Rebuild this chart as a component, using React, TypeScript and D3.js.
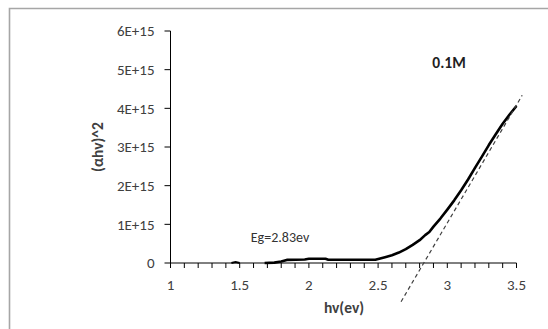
import React from "react";
import * as d3 from "d3";

const W = 548;
const H = 329;

// main curve: hv (eV) vs (αhv)^2 in units of 1E15
const hvMain = [1.68, 1.75, 1.8, 1.84, 1.97, 2.0, 2.12, 2.14, 2.48, 2.55, 2.6, 2.65, 2.7, 2.75, 2.8, 2.84, 2.87, 2.9, 2.95, 3.0, 3.05, 3.1, 3.15, 3.2, 3.25, 3.3, 3.35, 3.4, 3.45, 3.5];
const valMain = [0, 0.01, 0.04, 0.08, 0.09, 0.11, 0.11, 0.085, 0.085, 0.15, 0.2, 0.27, 0.36, 0.47, 0.59, 0.72, 0.8, 0.94, 1.15, 1.38, 1.62, 1.88, 2.16, 2.46, 2.75, 3.05, 3.33, 3.6, 3.84, 4.06];
// small blip near 1.47
const hvBlip = [1.44, 1.47, 1.5];
const valBlip = [0, 0.025, 0];
// tangent line (Eg = 2.83 eV)
const tangentHv = [2.666, 3.541];
const tangentSlope = 6.1; // 1E15 per eV
const Eg = 2.83;

const xTicks = [1, 1.5, 2, 2.5, 3, 3.5];
const xMinorTicks = d3.range(10, 36).map((d) => d / 10);
const yTicks = [0, 1, 2, 3, 4, 5, 6];
const yTickLabels = ["0", "1E+15", "2E+15", "3E+15", "4E+15", "5E+15", "6E+15"];

export default function App() {
  const x = d3.scaleLinear().domain([1, 3.5]).range([170.5, 516.5]);
  const y = d3.scaleLinear().domain([0, 6]).range([263, 31]);
  const line = d3
    .line<[number, number]>()
    .x((d) => x(d[0]))
    .y((d) => y(d[1]));
  const mainPts: [number, number][] = hvMain.map((h, i) => [h, valMain[i]]);
  const blipPts: [number, number][] = hvBlip.map((h, i) => [h, valBlip[i]]);
  const tanPts: [number, number][] = tangentHv.map((h) => [h, tangentSlope * (h - Eg)]);
  const font = "Carlito, 'Liberation Sans', Arial, sans-serif";
  return (
    <svg width={W} height={H} style={{ position: "absolute", left: 0, top: 0 }} fontFamily={font}>
      <rect x={0} y={0} width={W} height={H} fill="#fff" />
      <path d={`M9.5,${H} L9.5,8.5 L${W},8.5`} fill="none" stroke="#a6a6a6" strokeWidth={1.6} />
      {/* axes */}
      <line x1={x(1)} x2={x(1)} y1={y(6)} y2={y(0)} stroke="#000" strokeWidth={1} />
      <line x1={x(1)} x2={x(3.5)} y1={y(0)} y2={y(0)} stroke="#000" strokeWidth={1} />
      {yTicks.map((t, i) => (
        <g key={"y" + t}>
          <line x1={x(1) - 6} x2={x(1)} y1={y(t)} y2={y(t)} stroke="#000" strokeWidth={1} />
          <text x={x(1) - 16} y={y(t)} dy="0.35em" textAnchor="end" fontSize={15} fill="#404040">
            {yTickLabels[i]}
          </text>
        </g>
      ))}
      {xMinorTicks.map((t) => (
        <line key={"m" + t} x1={x(t)} x2={x(t)} y1={y(0)} y2={y(0) + 5} stroke="#000" strokeWidth={1} />
      ))}
      {xTicks.map((t) => (
        <text key={"x" + t} x={x(t)} y={285} dy="0.35em" textAnchor="middle" fontSize={15} fill="#404040">
          {String(t)}
        </text>
      ))}
      {/* data */}
      <path d={line(blipPts) || ""} fill="none" stroke="#000" strokeWidth={2} />
      <path d={line(mainPts) || ""} fill="none" stroke="#000" strokeWidth={2.6} strokeLinejoin="round" />
      <path d={line(tanPts) || ""} fill="none" stroke="#404040" strokeWidth={1.2} strokeDasharray="4,3" />
      {/* labels */}
      <text x={344} y={308} dy="0.35em" textAnchor="middle" fontSize={15.5} fontWeight="bold" fill="#404040">
        hv(ev)
      </text>
      <text
        transform={`translate(98,147) rotate(-90)`}
        dy="0.35em"
        textAnchor="middle"
        fontSize={15.5}
        fontWeight="bold"
        fill="#404040"
      >
        (αhv)^2
      </text>
      <text x={449} y={63} dy="0.35em" textAnchor="middle" fontSize={15.5} fontWeight="bold" fill="#1f1f1f">
        0.1M
      </text>
      <text x={280} y={237} dy="0.35em" textAnchor="middle" fontSize={14} fill="#333">
        Eg=2.83ev
      </text>
    </svg>
  );
}
